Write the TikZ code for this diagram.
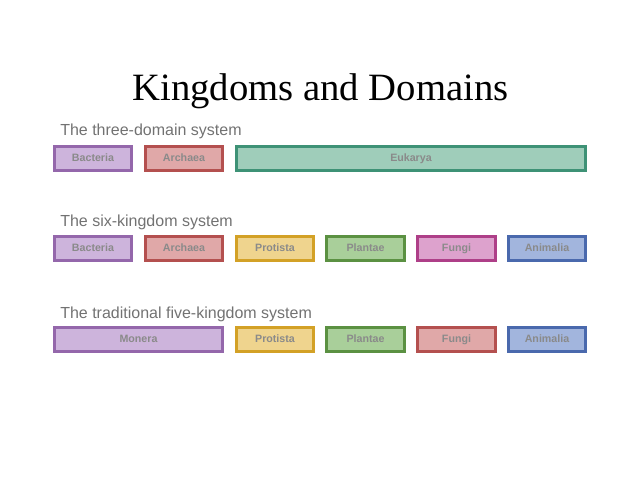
\documentclass[tikz,border=0pt]{standalone}
\usepackage{fontspec}
\setmainfont{Liberation Serif}
\setsansfont{Liberation Sans}
\definecolor{bacF}{HTML}{CDB4DC}\definecolor{bacD}{HTML}{9467AB}
\definecolor{arcF}{HTML}{E0A8A8}\definecolor{arcD}{HTML}{B4504F}
\definecolor{eukF}{HTML}{9FCDBA}\definecolor{eukD}{HTML}{3E9276}
\definecolor{proF}{HTML}{EFD48E}\definecolor{proD}{HTML}{D3A126}
\definecolor{plaF}{HTML}{A9CF9A}\definecolor{plaD}{HTML}{5B9142}
\definecolor{funF}{HTML}{DDA2CD}\definecolor{funD}{HTML}{AE3F88}
\definecolor{aniF}{HTML}{A2B5DD}\definecolor{aniD}{HTML}{4A69AD}
\definecolor{boxtext}{HTML}{8A8A8A}
\definecolor{labtext}{HTML}{727272}
\tikzset{
  kbox/.style n args={3}{draw=#2, fill=#1, line width=2.25pt, minimum width=#3*0.75pt,
    minimum height=18pt, inner sep=0pt, text height=6pt, text depth=1.5pt,
    font=\sffamily\bfseries\fontsize{8}{9}\selectfont, text=boxtext},
  rowlabel/.style={anchor=base west, inner sep=0pt, font=\sffamily\fontsize{12}{14}\selectfont, text=labtext},
}
\begin{document}
\begin{tikzpicture}[x=0.75pt,y=-0.75pt]
\useasboundingbox (0,0) rectangle (641,482);
\node[anchor=base, inner sep=0pt, font=\fontsize{29}{34}\selectfont] (title) at (320.5,100) {Kingdoms and Domains};
% row 1
\node[rowlabel] (l1) at (60,135) {The three-domain system};
\node[kbox={bacF}{bacD}{77}] (b1) at (93,158) {Bacteria};
\node[kbox={arcF}{arcD}{77}] (a1) at (184,158) {Archaea};
\node[kbox={eukF}{eukD}{349}] (e1) at (411,158) {Eukarya};
% row 2
\node[rowlabel] (l2) at (60,226) {The six-kingdom system};
\node[kbox={bacF}{bacD}{77}] (b2) at (93,248.5) {Bacteria};
\node[kbox={arcF}{arcD}{77}] (a2) at (184,248.5) {Archaea};
\node[kbox={proF}{proD}{77}] (p2) at (275,248.5) {Protista};
\node[kbox={plaF}{plaD}{78}] (pl2) at (365.5,248.5) {Plantae};
\node[kbox={funF}{funD}{78}] (f2) at (456.5,248.5) {Fungi};
\node[kbox={aniF}{aniD}{77}] (an2) at (547,248.5) {Animalia};
% row 3
\node[rowlabel] (l3) at (60,318) {The traditional five-kingdom system};
\node[kbox={bacF}{bacD}{168}] (m3) at (138.5,339.5) {Monera};
\node[kbox={proF}{proD}{77}] (p3) at (275,339.5) {Protista};
\node[kbox={plaF}{plaD}{78}] (pl3) at (365.5,339.5) {Plantae};
\node[kbox={arcF}{arcD}{78}] (f3) at (456.5,339.5) {Fungi};
\node[kbox={aniF}{aniD}{77}] (an3) at (547,339.5) {Animalia};
\end{tikzpicture}
\end{document}
